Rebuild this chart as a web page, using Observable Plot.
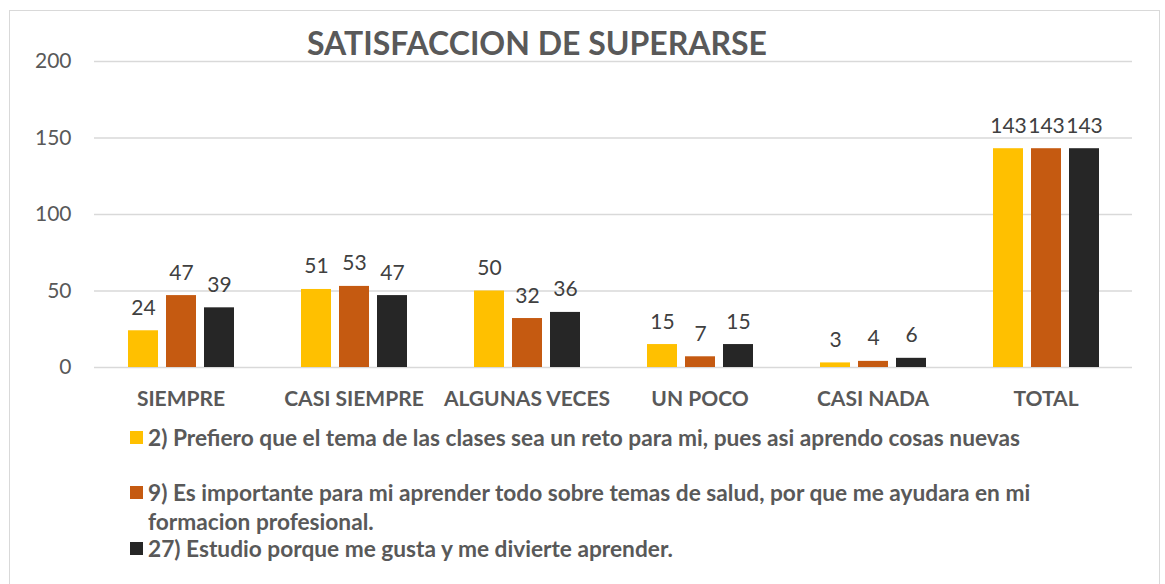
<!DOCTYPE html>
<html><head><meta charset="utf-8">
<script src="https://cdn.jsdelivr.net/npm/d3@7"></script>
<script src="https://cdn.jsdelivr.net/npm/@observablehq/plot@0.6"></script>
<style>
body{margin:0;background:#fff;font-family:Lato,"Open Sans",sans-serif;}
#wrap{position:relative;width:1165px;height:584px;overflow:hidden;background:#fff;}
#frame{position:absolute;left:9px;top:10px;width:1149px;height:580px;border:1px solid #d9d9d9;}
#title{position:absolute;left:307px;top:23px;font-weight:bold;font-size:32px;color:#595959;white-space:nowrap;}
#chart{position:absolute;left:0;top:0;}
.sq{position:absolute;left:130px;width:13px;height:13px;}
.lt{position:absolute;left:148px;font-weight:bold;font-size:22.7px;line-height:29px;color:#595959;white-space:nowrap;}
</style>
</head><body>
<div id="wrap">
  <div id="frame"></div>
  <div id="chart"></div>
  <div id="title"></div>
  <div id="legend"></div>
</div>
<script>
const title = "SATISFACCION DE SUPERARSE";
const categories = ["SIEMPRE", "CASI SIEMPRE", "ALGUNAS VECES", "UN POCO", "CASI NADA", "TOTAL"];
const seriesKeys = ["2", "9", "27"];
const seriesLabels = [
  "2) Prefiero que el tema de las clases sea un reto para mi, pues asi aprendo cosas nuevas",
  "9) Es importante para mi aprender todo sobre temas de salud, por que me ayudara en mi\nformacion profesional.",
  "27) Estudio porque me gusta y me divierte aprender."
];
const seriesColors = ["#FFC000", "#C55A11", "#262626"];
const values2 = [24, 51, 50, 15, 3, 143];
const values9 = [47, 53, 32, 7, 4, 143];
const values27 = [39, 47, 36, 15, 6, 143];
const yTicks = [0, 50, 100, 150, 200];

const seriesValues = [values2, values9, values27];
const data = [];
categories.forEach((c, i) => {
  seriesKeys.forEach((s, j) => data.push({cat: c, serie: s, value: seriesValues[j][i]}));
});

document.getElementById("title").textContent = title;

const chart = Plot.plot({
  width: 1165,
  height: 420,
  marginTop: 61,
  marginBottom: 53,
  marginLeft: 92,
  marginRight: 31,
  style: {fontFamily: "Lato, 'Open Sans', sans-serif", fontSize: "21px", color: "#595959", background: "transparent", overflow: "visible"},
  fx: {domain: categories, paddingInner: 0, paddingOuter: 0, label: null},
  x: {domain: seriesKeys, paddingInner: 0.22, paddingOuter: 0.866, axis: null},
  y: {domain: [0, 200], label: null},
  color: {domain: seriesKeys, range: seriesColors},
  marks: [
    Plot.ruleY(yTicks, {stroke: "#d9d9d9", strokeWidth: 1.5}),
    Plot.axisY({ticks: yTicks, tickSize: 0, tickPadding: 23, label: null, fill: "#595959", fontSize: 21}),
    Plot.axisFx({anchor: "bottom", tickSize: 0, tickPadding: 24, label: null, fontWeight: "bold", fontSize: 21, fill: "#595959"}),
    Plot.barY(data, {fx: "cat", x: "serie", y: "value", fill: "serie"}),
    Plot.text(data, {fx: "cat", x: "serie", y: "value", text: d => String(d.value), lineAnchor: "bottom", dy: -16, fill: "#404040", fontSize: 21})
  ]
});
document.getElementById("chart").appendChild(chart);

const legend = document.getElementById("legend");
const sqTops = [431, 486, 542];
const textTops = [423, 478, 534];
seriesLabels.forEach((lab, i) => {
  const sq = document.createElement("div");
  sq.className = "sq";
  sq.style.top = sqTops[i] + "px";
  sq.style.background = seriesColors[i];
  legend.appendChild(sq);
  const t = document.createElement("div");
  t.className = "lt";
  t.style.top = textTops[i] + "px";
  lab.split("\n").forEach((line, k) => {
    if (k) t.appendChild(document.createElement("br"));
    t.appendChild(document.createTextNode(line));
  });
  legend.appendChild(t);
});
</script>
</body></html>
